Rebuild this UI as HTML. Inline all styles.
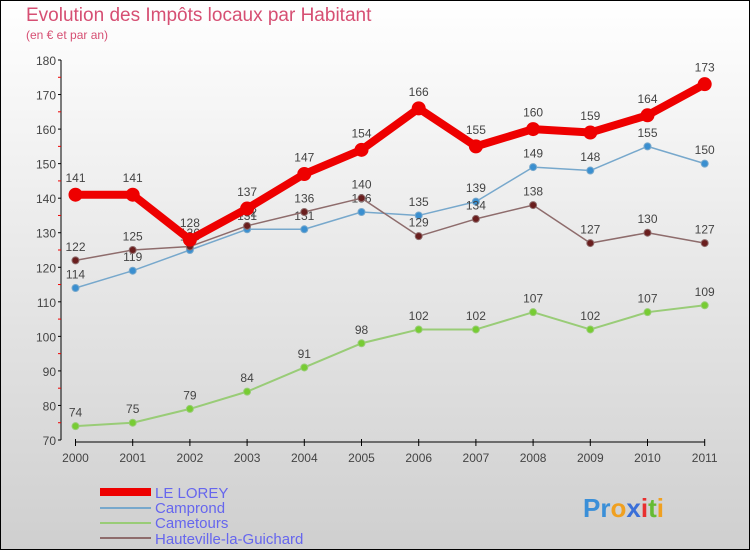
<!DOCTYPE html>
<html><head><meta charset="utf-8"><style>
body{margin:0}
#c{position:relative;width:750px;height:550px;font-family:"Liberation Sans",sans-serif}
</style></head><body>
<div id="c">
<svg id="s" width="750" height="550" xmlns="http://www.w3.org/2000/svg">
<defs><linearGradient id="bg" x1="0" y1="0" x2="0" y2="1"><stop offset="0" stop-color="#ffffff"/><stop offset="1" stop-color="#cfcfcf"/></linearGradient></defs>
<rect x="0.5" y="0.5" width="749" height="549" fill="url(#bg)" stroke="#000"/>
<text x="26" y="21" font-size="19" fill="#d64f73">Evolution des Impôts locaux par Habitant</text>
<text x="26" y="39" font-size="12" fill="#d64f73">(en € et par an)</text>
<g id="axes"></g><g id="series"></g>
<g font-size="15" fill="#6666ee">
<rect x="100" y="488" width="51" height="8" fill="#ee0000"/>
<text x="155" y="498">LE LOREY</text>
<rect x="100" y="507" width="51" height="2" fill="#77a8cc"/>
<text x="155" y="513">Camprond</text>
<rect x="100" y="522" width="51" height="2" fill="#99cc77"/>
<text x="155" y="528">Cametours</text>
<rect x="100" y="537" width="51" height="2" fill="#8e6c6c"/>
<text x="155" y="544">Hauteville-la-Guichard</text>
</g>
<g font-size="26" font-weight="bold">
<text x="583" y="517"><tspan fill="#3a8fd8">Pr</tspan><tspan fill="#f0a020">o</tspan><tspan fill="#3a6fd8">x</tspan><tspan fill="#e83030">i</tspan><tspan fill="#66bb33">t</tspan><tspan fill="#f0a020">i</tspan></text>
</g>
</svg>
</div>
<script>
const years=["2000","2001","2002","2003","2004","2005","2006","2007","2008","2009","2010","2011"];
const yTicks=[70,80,90,100,110,120,130,140,150,160,170,180];
const leLorey=[141,141,128,137,147,154,166,155,160,159,164,173];
const camprond=[114,119,125,131,131,136,135,139,149,148,155,150];
const cametours=[74,75,79,84,91,98,102,102,107,102,107,109];
const hauteville=[122,125,126,132,136,140,129,134,138,127,130,127];
const NS="http://www.w3.org/2000/svg";
const X=i=>75.5+i*57.2;
const Y=v=>60+(180-v)*380/110;
function el(t,a,p){const e=document.createElementNS(NS,t);for(const k in a)e.setAttribute(k,a[k]);p.appendChild(e);return e;}
const ax=document.getElementById('axes');
const yl=el('line',{x1:61,y1:60,x2:61,y2:440,stroke:'#000'},ax);


yTicks.forEach((v,i)=>{
  el('line',{x1:58,x2:61,y1:Y(v),y2:Y(v),stroke:'#000'},ax);
  if(i<yTicks.length-1) el('line',{x1:58,x2:61,y1:Y(v+5),y2:Y(v+5),stroke:'#e00'},ax);
  const t=el('text',{x:56,y:Y(v)+5,'text-anchor':'end','font-size':12,fill:'#444'},ax);
  t.textContent=v;
  
  
});
const xl=el('line',{x1:X(0),y1:442,x2:X(11),y2:442,stroke:'#000'},ax);


years.forEach((y,i)=>{
  el('line',{x1:X(i),x2:X(i),y1:439,y2:446,stroke:'#000'},ax);
  const t=el('text',{x:X(i),y:462,'text-anchor':'middle','font-size':12,fill:'#444'},ax);
  t.textContent=y;
  
  
});
const sg=document.getElementById('series');
function draw(data,name,color,w,r,dot){
  const g=el('g',{},sg);
  
  
  const p=el('polyline',{points:data.map((v,i)=>X(i)+','+Y(v)).join(' '),fill:'none',stroke:color,'stroke-width':w,'stroke-linejoin':'round'},g);
  
  
  data.forEach((v,i)=>{
    const c=el('circle',{cx:X(i),cy:Y(v),r:r,fill:dot,stroke:color,'stroke-width':1},g);
    
    
    const t=el('text',{x:X(i),y:Y(v)-(r+6),'text-anchor':'middle','font-size':12,fill:'#444'},g);
    t.textContent=v;
    
    
  });
}
draw(cametours,'cametours','#99cc77',2,3.5,'#77cc33');
draw(camprond,'camprond','#77a8cc',1.5,3.5,'#3a8fd0');
draw(hauteville,'hauteville','#8e6c6c',1.5,3.5,'#6a1e1e');
draw(leLorey,'le-lorey','#ee0000',8,6.5,'#ee0000');
</script>
</body></html>
